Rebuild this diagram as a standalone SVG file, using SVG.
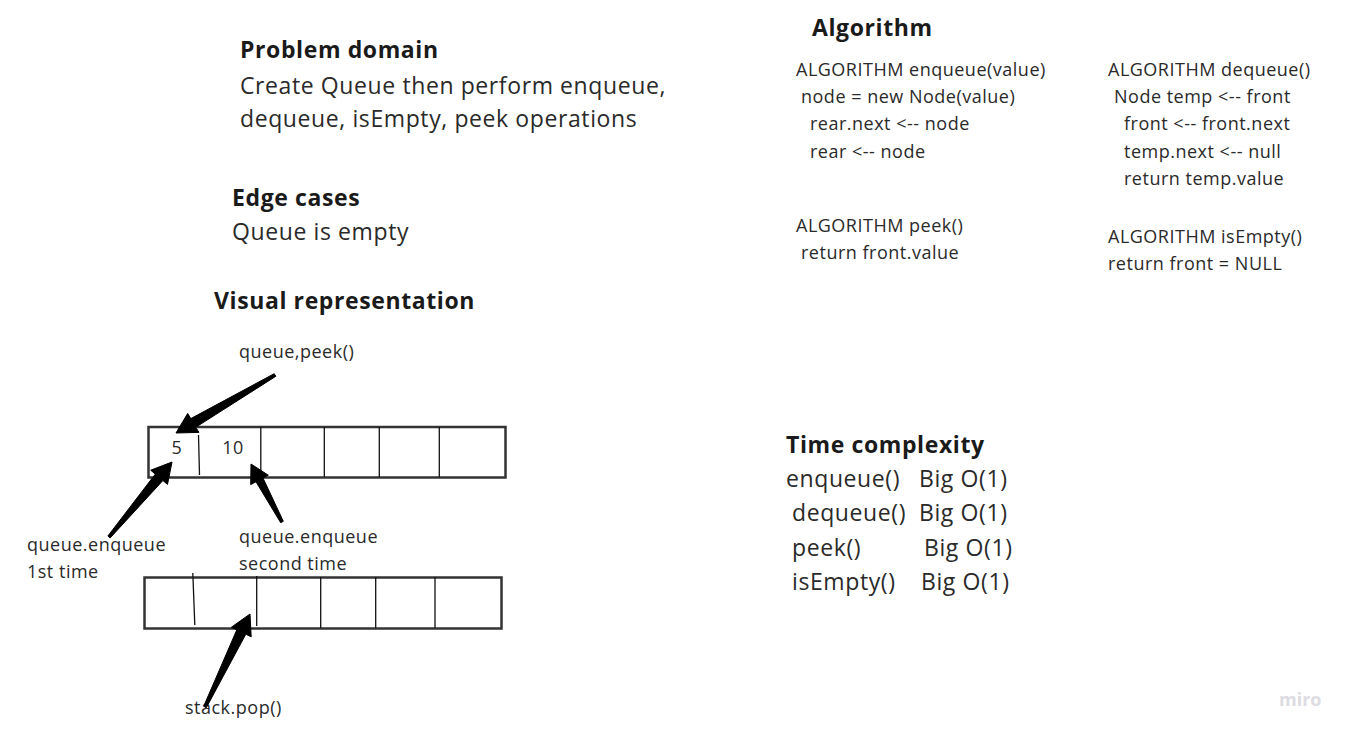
<svg xmlns="http://www.w3.org/2000/svg" width="1353" height="739" viewBox="0 0 1353 739">
<style>
text{font-family:"Open Sans","Noto Sans","Liberation Sans",sans-serif;fill:#2a2a2a}
.h{font-weight:bold;font-size:23px;letter-spacing:0.6px;fill:#1a1a1a}
.b{font-size:23px;letter-spacing:0.6px}
.a{font-size:18px;letter-spacing:0.5px}
.l{font-size:18px;letter-spacing:0.5px}
.box{fill:#fff;stroke:#333;stroke-width:2.5}
.div{stroke:#111;stroke-width:1.3;fill:none}
.arr{fill:#000;stroke:#000;stroke-width:1;stroke-linejoin:round}
</style>
<rect width="1353" height="739" fill="#fff"/>
<g id="problem-domain">
<text class="h" x="240" y="58">Problem domain</text>
<text class="b" x="240" y="94">Create Queue then perform enqueue,</text>
<text class="b" x="240" y="127">dequeue, isEmpty, peek operations</text>
</g>
<g id="edge-cases">
<text class="h" x="232" y="206">Edge cases</text>
<text class="b" x="232" y="240">Queue is empty</text>
</g>
<g id="visual-title">
<text class="h" x="214" y="309">Visual representation</text>
</g>
<g id="algorithm">
<text class="h" x="812" y="36">Algorithm</text>
<text class="a" x="796" y="76">ALGORITHM enqueue(value)</text>
<text class="a" x="801" y="103">node = new Node(value)</text>
<text class="a" x="810" y="130">rear.next &lt;-- node</text>
<text class="a" x="810" y="158">rear &lt;-- node</text>
<text class="a" x="796" y="232">ALGORITHM peek()</text>
<text class="a" x="801" y="259">return front.value</text>
<text class="a" x="1108" y="76">ALGORITHM dequeue()</text>
<text class="a" x="1114" y="103">Node temp &lt;-- front</text>
<text class="a" x="1124" y="130">front &lt;-- front.next</text>
<text class="a" x="1124" y="158">temp.next &lt;-- null</text>
<text class="a" x="1124" y="185">return temp.value</text>
<text class="a" x="1108" y="243">ALGORITHM isEmpty()</text>
<text class="a" x="1108" y="270">return front = NULL</text>
</g>
<g id="time-complexity">
<text class="h" x="786" y="453">Time complexity</text>
<text class="b" x="786" y="487">enqueue()</text><text class="b" x="919" y="487">Big O(1)</text>
<text class="b" x="792" y="521">dequeue()</text><text class="b" x="919" y="521">Big O(1)</text>
<text class="b" x="792" y="556">peek()</text><text class="b" x="924" y="556">Big O(1)</text>
<text class="b" x="792" y="590">isEmpty()</text><text class="b" x="921" y="590">Big O(1)</text>
</g>
<g id="queue-box">
<rect class="box" x="148.5" y="427" width="357" height="50.5"/>
<path class="div" d="M198.5 435 L199.5 475 M260.8 427 V477 M324.3 427 V477 M379.3 427 V477 M439.3 427 V477"/>
<text class="l" x="177" y="454" text-anchor="middle">5</text>
<text class="l" x="233" y="454" text-anchor="middle">10</text>
</g>
<g id="stack-box">
<rect class="box" x="144.5" y="577.5" width="357" height="51"/>
<path class="div" d="M192.8 573 L194.8 625 M256.7 576 V626 M320.7 577 V628 M375.7 577 V628 M435 577 V628"/>
</g>
<g id="labels">
<text class="l" x="239" y="358">queue,peek()</text>
<text class="l" x="27" y="551">queue.enqueue</text>
<text class="l" x="27" y="578">1st time</text>
<text class="l" x="239" y="543">queue.enqueue</text>
<text class="l" x="239" y="570">second time</text>
<text class="l" x="185" y="714">stack.pop()</text>
</g>
<g id="connectors">
<polygon class="arr" points="275.8,376.3 195.8,427.2 198.9,432.4 176,433 187.7,413.4 190.8,418.6 274.2,373.7"/>
<polygon class="arr" points="107.9,536 155.3,474.1 150.7,470.2 172,462 167.5,484.4 162.9,480.5 110.1,538"/>
<polygon class="arr" points="280.7,522.7 256,481.8 250.7,484.6 251,464 268.3,475.2 263,478 283.3,521.3"/>
<polygon class="arr" points="203.7,706.3 236.8,629.8 231.4,627.2 250,614 251.2,636.8 245.8,634.2 206.3,707.7"/>
</g>
<g id="watermark">
<text x="1279" y="706" style="font-size:18px;font-weight:bold;fill:#dcdce2">miro</text>
</g>
</svg>
